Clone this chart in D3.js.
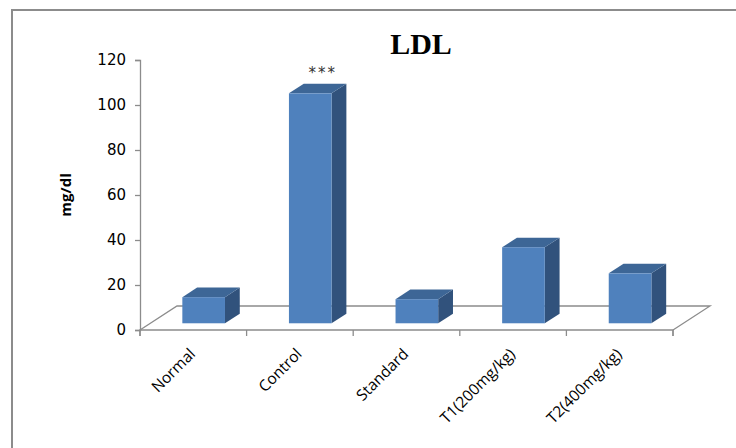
<!DOCTYPE html>
<html>
<head>
<meta charset="utf-8">
<script src="https://cdn.jsdelivr.net/npm/d3@7"></script>
<style>
  html, body { margin: 0; padding: 0; background: #fff; }
  svg { display: block; }
</style>
</head>
<body>
<div id="chart"></div>
<script>
// LDL levels per treatment group (mg/dl)
const categories = ["Normal", "Control", "Standard", "T1(200mg/kg)", "T2(400mg/kg)"];
const values = [11.6, 102.2, 10.7, 33.8, 22.2];
const annotations = ["", "***", "", "", ""];
const yTicks = [0, 20, 40, 60, 80, 100, 120];
const title = "LDL";
const yLabel = "mg/dl";

const W = 736, H = 448;
const svg = d3.select("#chart").append("svg")
  .attr("width", W).attr("height", H);

// Outer chart frame (runs off the right and bottom edges)
svg.append("rect")
  .attr("x", 12).attr("y", 10)
  .attr("width", 740).attr("height", 460)
  .attr("fill", "#fff")
  .attr("stroke", "#8c8c8c").attr("stroke-width", 2);

// Scales on the front plane of the 3D floor
const x = d3.scaleBand().domain(categories).range([140, 673]);
const y = d3.scaleLinear().domain([0, 120]).range([330, 60]);

// Oblique depth vector of the full floor and of the bars
const floorDX = 37, floorDY = -24;
const barPlane = 0.28;   // bars sit this far back on the floor
const barDepth = 0.40;   // bar depth as a share of the floor depth
const barWidthRatio = 0.40;

const axisColor = "#8c8c8c";

// Floor outline
const x0 = x.range()[0], x1 = x.range()[1], y0 = y(0);
svg.append("path")
  .attr("d", `M${x0},${y0} L${x0 + floorDX},${y0 + floorDY} L${x1 + floorDX},${y0 + floorDY} L${x1},${y0}`)
  .attr("fill", "none").attr("stroke", axisColor).attr("stroke-width", 1.3);

// Vertical axis
const yAxis = svg.append("g").attr("transform", `translate(${x0},0)`)
  .call(d3.axisLeft(y).tickValues(yTicks).tickSize(5).tickPadding(9));
yAxis.select(".domain").attr("stroke", axisColor).attr("stroke-width", 1.3);
yAxis.selectAll(".tick line").attr("stroke", axisColor).attr("stroke-width", 1.3);
yAxis.selectAll(".tick text")
  .attr("fill", "#000")
  .style("font-family", "'DejaVu Sans', sans-serif")
  .style("font-size", "15px");

// Category axis along the front edge of the floor
const xAxis = svg.append("g").attr("transform", `translate(0,${y0})`)
  .call(d3.axisBottom(x).tickSize(6).tickSizeOuter(6).tickFormat(""));
xAxis.select(".domain").attr("stroke", axisColor).attr("stroke-width", 1.3)
  .attr("d", `M${x0},6V0H${x1}V6`);
// ticks at band boundaries instead of band centres
xAxis.selectAll(".tick").remove();
const bounds = d3.range(categories.length + 1).map(i => x0 + i * x.step());
xAxis.selectAll("line.bound").data(bounds).join("line")
  .attr("class", "bound")
  .attr("x1", d => d).attr("x2", d => d)
  .attr("y1", 0).attr("y2", 6)
  .attr("stroke", axisColor).attr("stroke-width", 1.3);

// Category labels, rotated
svg.append("g").selectAll("text").data(categories).join("text")
  .attr("transform", d => `translate(${x(d) + x.bandwidth() / 2 + 3},${y0 + 25}) rotate(-45)`)
  .attr("text-anchor", "end")
  .style("font-family", "'Open Sans', sans-serif")
  .style("font-size", "15.5px")
  .attr("fill", "#000")
  .text(d => d);

// 3D bars
const bw = x.bandwidth() * barWidthRatio;
const pdx = floorDX * barPlane, pdy = floorDY * barPlane;
const ddx = floorDX * barDepth, ddy = floorDY * barDepth;

const bars = svg.append("g").selectAll("g").data(categories.map((c, i) => ({ c, v: values[i], a: annotations[i] }))).join("g");

bars.each(function (d) {
  const g = d3.select(this);
  const left = x(d.c) + (x.bandwidth() - bw) / 2 + pdx;
  const right = left + bw;
  const bottom = y(0) + pdy;
  const top = y(d.v) + pdy;
  // side face
  g.append("path")
    .attr("d", `M${right},${bottom} L${right + ddx},${bottom + ddy} L${right + ddx},${top + ddy} L${right},${top} Z`)
    .attr("fill", "#31527c");
  // top face
  g.append("path")
    .attr("d", `M${left},${top} L${left + ddx},${top + ddy} L${right + ddx},${top + ddy} L${right},${top} Z`)
    .attr("fill", "#3d6696");
  // front face
  g.append("rect")
    .attr("x", left).attr("y", top)
    .attr("width", bw).attr("height", bottom - top)
    .attr("fill", "#4f81bd");
  if (d.a) {
    g.append("text")
      .attr("x", left + bw / 2 + ddx / 2 + 5)
      .attr("y", top + ddy - 6)
      .attr("text-anchor", "middle")
      .style("font-family", "'DejaVu Sans', sans-serif")
      .style("font-size", "15px")
      .style("letter-spacing", "2px")
      .attr("fill", "#333")
      .text(d.a);
  }
});

// Title
svg.append("text")
  .attr("x", 421).attr("y", 54)
  .attr("text-anchor", "middle")
  .style("font-family", "'Liberation Serif', 'Times New Roman', serif")
  .style("font-weight", "bold")
  .style("font-size", "30px")
  .attr("fill", "#000")
  .text(title);

// Vertical axis title
svg.append("text")
  .attr("transform", `translate(71,195) rotate(-90)`)
  .attr("text-anchor", "middle")
  .style("font-family", "'Open Sans', sans-serif")
  .style("font-weight", "bold")
  .style("font-size", "15px")
  .attr("fill", "#000")
  .text(yLabel);
</script>
</body>
</html>
